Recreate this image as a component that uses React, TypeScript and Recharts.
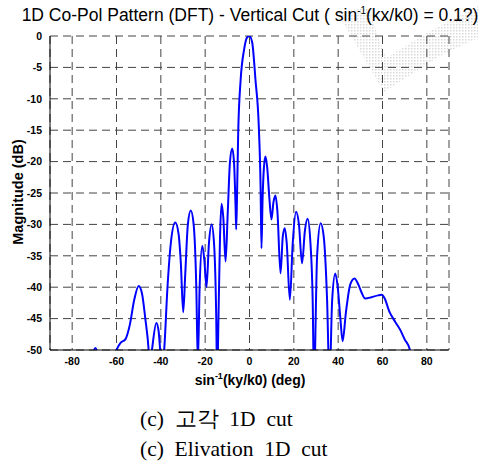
import { LineChart, Line, XAxis, YAxis, CartesianGrid } from 'recharts';

// Vertical cut of the 1D co-pol pattern, angle (deg) vs magnitude (dB)
const angles = [
  -72, -69.5, -68, -64, -60, -58, -56, -54, -52, -50, -48.5, -47, -45.5, -45, -44, -42, -41, -40.3, -39.5,
  -38.5, -37, -35.5, -33.5, -32, -31, -29.9, -29, -27.8, -26.5, -25.2, -24, -23.3, -22.5, -21.3, -20.3,
  -19.4, -18.3, -17.1, -16, -15, -14.6, -14, -13.3, -12.6, -11.8, -10.8, -9.8, -8.8, -7.8, -7, -6.3, -6,
  -5.6, -5.1, -4, -2.5, -1.2, 0, 1.2, 2.7, 4.2, 5, 5.4, 5.9, 6.5, 7.2, 8, 9, 9.9, 10.8, 11.7, 12.6, 14,
  15, 15.9, 16.8, 18.2, 19.5, 21, 22.3, 23.7, 25, 26.2, 27.5, 28.5, 29.1, 30.5, 32.1, 33.5, 35, 36.1,
  37.3, 38.7, 39.8, 41, 42, 43.5, 45.5, 47.4, 49, 50.5, 52.2, 55, 58, 59.7, 61, 63, 65.7, 68, 70, 72.4,
  73.5,
];
const magnitudes = [
  -53, -49.7, -51, -56, -50, -48.8, -48.3, -46, -42, -39.8, -41, -45, -50, -53, -50, -45.7, -47, -50, -53,
  -50, -40, -33, -29.7, -31.5, -36, -44, -38, -30, -27.8, -30, -40, -52, -40, -33.4, -36,
  -40, -33, -30, -33, -45, -55, -45, -32, -26.7, -29, -35.9, -28, -20, -17.9, -20, -27, -30.8,
  -25, -15.5, -7, -2.3, -0.3, 0, -1, -7, -14.5, -24, -33.8, -26, -21, -19.2, -21, -26, -29.2, -26.5, -25.4, -28, -37.8,
  -32, -30.6, -33, -42, -33, -28, -30, -36.2, -31, -29.1, -33, -42, -55, -35, -29.8, -32, -42, -55,
  -42, -37.8, -40, -45, -48.6, -44, -39.5, -38.6, -39.5, -40.8, -41.8, -41.6, -41.3, -41.2, -41.8, -43.8, -45.5, -46.8, -48.3, -50,
  -52,
];
const xTicks = [-80, -60, -40, -20, 0, 20, 40, 60, 80];
const yTicks = [0, -5, -10, -15, -20, -25, -30, -35, -40, -45, -50];

const data = angles.map((a, i) => ({ angle: a, mag: magnitudes[i] }));

const sans = '"Liberation Sans", Arial, sans-serif';
const serif = '"Liberation Serif", "Times New Roman", serif';
const tickStyle = { fontFamily: sans, fontSize: 10.5, fontWeight: 700, fill: '#000' };

export default function App() {
  return (
    <div style={{ position: 'absolute', left: 0, top: 0, width: 484, height: 463, background: '#fff' }}>
      {/* faint dithered mark behind the plot */}
      <svg width={484} height={463} style={{ position: 'absolute', left: 0, top: 0 }}>
        <defs>
          <pattern id="dots" width={3} height={3} patternUnits="userSpaceOnUse">
            <rect width={1.5} height={1.5} fill="#c4c4c4" />
          </pattern>
        </defs>
        <path d="M337 12 L368 8 L386 58 L432 30 L478 6 L478 38 L440 56 L384 92 Z" fill="url(#dots)" opacity={0.65} />
      </svg>
      <div style={{ position: 'absolute', left: 0, top: 0 }}>
        <LineChart width={484} height={463} data={data} margin={{ top: 36, right: 35, bottom: 83, left: 10 }}>
          <CartesianGrid stroke="#444" strokeDasharray="8 5" strokeWidth={1} />
          <XAxis
            dataKey="angle"
            type="number"
            domain={[-90, 90]}
            ticks={xTicks}
            height={30}
            tick={tickStyle}
            tickLine={false}
            axisLine={{ stroke: '#000' }}
            allowDataOverflow
          />
          <XAxis xAxisId="top" orientation="top" type="number" domain={[-90, 90]} height={0} tick={false} tickLine={false} axisLine={{ stroke: '#000' }} />
          <YAxis
            type="number"
            domain={[-50, 0]}
            ticks={yTicks}
            width={40}
            tick={tickStyle}
            tickLine={false}
            axisLine={{ stroke: '#000' }}
            allowDataOverflow
            interval={0}
          />
          <YAxis yAxisId="right" orientation="right" domain={[-50, 0]} width={0} tick={false} tickLine={false} axisLine={{ stroke: '#000' }} />
          <Line type="monotone" dataKey="mag" stroke="#0000ff" strokeWidth={2} dot={false} isAnimationActive={false} />
        </LineChart>
      </div>
      <div style={{ position: 'absolute', left: 0, top: 5, width: 500, textAlign: 'center', fontFamily: sans, fontSize: 17.5, whiteSpace: 'nowrap' }}>
        1D Co-Pol Pattern (DFT) - Vertical Cut ( sin<sup style={{ fontSize: 10 }}>-1</sup>(kx/k0) = 0.1?)
      </div>
      <div
        style={{
          position: 'absolute', left: 18, top: 192, transform: 'translate(-50%, -50%) rotate(-90deg)',
          fontFamily: sans, fontSize: 14.5, fontWeight: 700, whiteSpace: 'nowrap',
        }}
      >
        Magnitude (dB)
      </div>
      <div style={{ position: 'absolute', left: 150, top: 371, width: 200, textAlign: 'center', fontFamily: sans, fontSize: 14, fontWeight: 700, whiteSpace: 'nowrap' }}>
        sin<sup style={{ fontSize: 9 }}>-1</sup>(ky/k0) (deg)
      </div>
      <div style={{ position: 'absolute', left: 140, top: 404, fontFamily: serif, fontSize: 21.5, whiteSpace: 'pre' }}>
        (c)  고각  1D  cut
      </div>
      <div style={{ position: 'absolute', left: 140, top: 437, fontFamily: serif, fontSize: 21.5, whiteSpace: 'pre' }}>
        (c)  Elivation  1D  cut
      </div>
    </div>
  );
}
